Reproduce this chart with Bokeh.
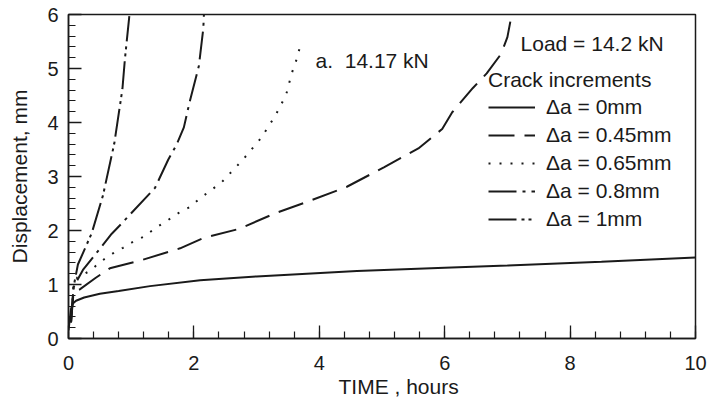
from bokeh.plotting import figure
from bokeh.models import Range1d, Legend, LegendItem, Label, SingleIntervalTicker, Title
from bokeh.embed import file_html
from bokeh.resources import INLINE

# ---- data (time in hours, displacement in mm) ----
t_0mm = [0.0, 0.02, 0.04, 0.07, 0.12, 0.25, 0.5, 0.8, 1.3, 2.1, 3.0, 4.6, 6.0, 7.0, 8.5, 10.0]
d_0mm = [0.15, 0.35, 0.55, 0.65, 0.70, 0.76, 0.83, 0.88, 0.97, 1.08, 1.15, 1.25, 1.31, 1.35, 1.42, 1.5]

t_045 = [0.04, 0.08, 0.18, 0.43, 0.66, 1.19, 1.78, 2.15, 2.72, 3.32, 3.85, 4.44, 5.03, 5.58, 5.96, 6.12, 6.45, 6.67, 6.90, 7.0, 7.06]
d_045 = [0.3, 0.85, 0.91, 1.12, 1.30, 1.46, 1.67, 1.86, 2.03, 2.33, 2.55, 2.81, 3.17, 3.52, 3.88, 4.19, 4.64, 4.91, 5.27, 5.58, 5.95]

t_065 = [0.04, 0.08, 0.14, 0.34, 0.52, 0.70, 0.87, 1.04, 1.21, 1.39, 1.57, 1.75, 1.93, 2.09, 2.44, 2.78, 3.07, 3.30, 3.47, 3.56, 3.63, 3.72]
d_065 = [0.3, 0.95, 1.13, 1.25, 1.43, 1.57, 1.68, 1.80, 1.89, 2.05, 2.18, 2.32, 2.43, 2.59, 2.89, 3.31, 3.71, 4.13, 4.51, 4.91, 5.14, 5.52]

t_08 = [0.04, 0.08, 0.23, 0.69, 0.84, 1.38, 1.59, 1.72, 1.84, 1.93, 2.08, 2.15, 2.16]
d_08 = [0.3, 0.95, 1.27, 1.94, 2.12, 2.79, 3.31, 3.58, 3.91, 4.37, 5.05, 5.74, 6.0]

t_1 = [0.04, 0.08, 0.15, 0.37, 0.55, 0.73, 0.86, 0.90, 0.97]
d_1 = [0.3, 0.95, 1.37, 1.95, 2.65, 3.61, 4.62, 5.18, 5.97]

series_labels = ["\u0394a = 0mm", "\u0394a = 0.45mm", "\u0394a = 0.65mm", "\u0394a = 0.8mm", "\u0394a = 1mm"]
legend_title = "Crack increments"
load_text = "Load = 14.2 kN"
note_text = "a.\u00a0 14.17 kN"
x_title = "TIME , hours"
y_title = "Displacement, mm"

FONT = "Liberation Sans"
INK = "#1a1a1a"

p = figure(width=712, height=400, output_backend="svg", toolbar_location=None,
           x_range=Range1d(0, 10), y_range=Range1d(0, 6),
           min_border_left=68, min_border_right=17, min_border_top=14, min_border_bottom=62)
p.background_fill_color = "white"
p.border_fill_color = "white"
p.outline_line_color = INK
p.outline_line_width = 1.5
p.xgrid.visible = False
p.ygrid.visible = False

p.xaxis.ticker = SingleIntervalTicker(interval=2, num_minor_ticks=5)
p.yaxis.ticker = SingleIntervalTicker(interval=1, num_minor_ticks=5)
for ax in (p.xaxis[0], p.yaxis[0]):
    ax.major_tick_in = 13
    ax.major_tick_out = 0
    ax.minor_tick_in = 7
    ax.minor_tick_out = 0
    ax.major_tick_line_color = INK
    ax.minor_tick_line_color = INK
    ax.major_tick_line_width = 1.3
    ax.minor_tick_line_width = 1.2
    ax.axis_line_color = INK
    ax.axis_line_width = 1.5
    ax.major_label_text_font = FONT
    ax.major_label_text_font_size = "20px"
    ax.major_label_text_color = INK
p.xaxis.major_label_standoff = 17
p.yaxis.major_label_standoff = 10
p.yaxis.axis_label = y_title
p.yaxis.axis_label_text_font = FONT
p.yaxis.axis_label_text_font_size = "21px"
p.yaxis.axis_label_text_font_style = "normal"
p.yaxis.axis_label_text_color = INK
p.yaxis.axis_label_standoff = 13

lw = 2
r0 = p.line(t_0mm, d_0mm, line_color=INK, line_width=lw)
r1 = p.line(t_045, d_045, line_color=INK, line_width=lw, line_dash="26 10")
r2 = p.line(t_065, d_065, line_color=INK, line_width=lw, line_dash="2 9")
r3 = p.line(t_08, d_08, line_color=INK, line_width=lw, line_dash="28 6 3 6")
r4 = p.line(t_1, d_1, line_color=INK, line_width=lw, line_dash="28 5 3 4 3 5")

legend = Legend(
    items=[LegendItem(label=lab, renderers=[r]) for lab, r in zip(series_labels, [r0, r1, r2, r3, r4])],
    location=(420, 107),
    title=legend_title,
    title_text_font=FONT, title_text_font_size="21px", title_text_font_style="normal",
    title_text_color=INK, title_standoff=3,
    label_text_font=FONT, label_text_font_size="21px", label_text_color=INK,
    glyph_width=47, glyph_height=20, label_height=20, label_standoff=11,
    spacing=4, padding=0, margin=0,
    border_line_alpha=0, background_fill_alpha=0,
)
p.add_layout(legend)

p.add_layout(Label(x=7.21, y=5.46, text=load_text, text_font=FONT, text_font_size="21px",
                   text_color=INK, text_baseline="middle", text_align="left"))
p.add_layout(Label(x=3.94, y=5.15, text=note_text, text_font=FONT, text_font_size="21px",
                   text_color=INK, text_baseline="middle", text_align="left"))

xt = Title(text=x_title, align="left", offset=270, text_font=FONT, text_font_size="21px",
           text_font_style="normal", text_color=INK, standoff=0)
p.add_layout(xt, "below")

open("out.html", "w").write(file_html(p, INLINE))
